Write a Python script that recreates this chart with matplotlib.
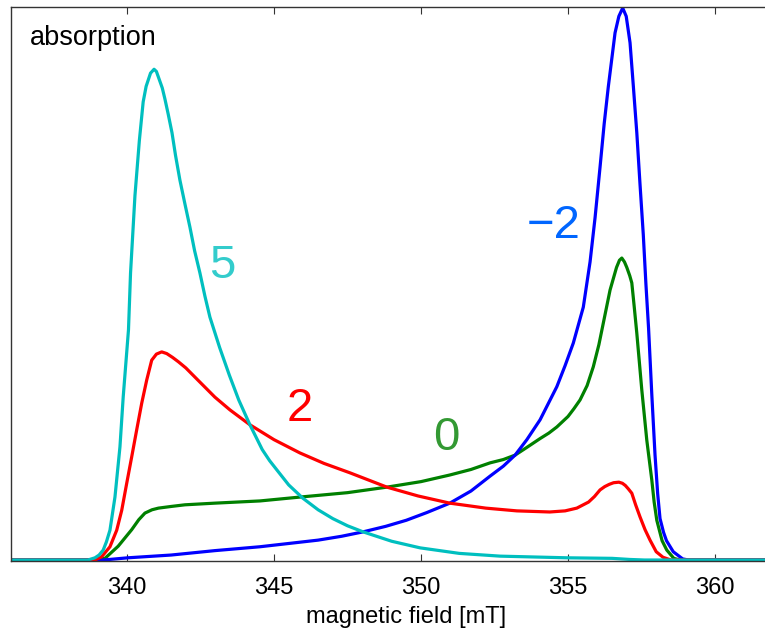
import matplotlib
matplotlib.use("Agg")
import matplotlib.pyplot as plt

plt.rcParams['font.family'] = ['Liberation Sans', 'DejaVu Sans']

# magnetic field [mT] / absorption (normalised)
field_5 = [336.0, 338.67, 338.91, 339.05, 339.19, 339.3, 339.42, 339.59, 339.76, 339.87,
           340.05, 340.12, 340.27, 340.42, 340.55, 340.65, 340.8, 340.92, 341.0, 341.1,
           341.2, 341.29, 341.4, 341.53, 341.65, 341.8, 341.97, 342.14, 342.3, 342.48,
           342.65, 342.82, 343.0, 343.15, 343.48, 343.8, 344.18, 344.6, 344.85, 345.1,
           345.5, 345.98, 346.5, 347.0, 347.5, 348.03, 349.0, 349.97, 351.3, 352.69,
           354.96, 356.5, 357.1, 357.6, 363.0]
absorb_5 = [0, 0, 0.004, 0.009, 0.018, 0.033, 0.054, 0.114, 0.205, 0.295,
            0.417, 0.52, 0.66, 0.76, 0.83, 0.858, 0.882, 0.889, 0.885, 0.87,
            0.855, 0.835, 0.808, 0.774, 0.733, 0.688, 0.645, 0.603, 0.56, 0.52,
            0.478, 0.44, 0.41, 0.385, 0.335, 0.29, 0.245, 0.2, 0.18, 0.163,
            0.136, 0.112, 0.091, 0.075, 0.062, 0.051, 0.034, 0.022, 0.012, 0.007,
            0.004, 0.003, 0.001, 0, 0]

field_2 = [336.0, 338.91, 339.14, 339.42, 339.65, 339.82, 339.99, 340.16, 340.33, 340.5,
           340.67, 340.84, 341.0, 341.18, 341.35, 341.55, 341.75, 342.0, 342.41, 342.99,
           343.5, 344.18, 345.0, 345.88, 346.7, 347.58, 348.84, 349.9, 350.98, 352.2,
           353.26, 354.38, 354.9, 355.3, 355.7, 355.9, 356.09, 356.25, 356.4, 356.55,
           356.73, 356.85, 356.95, 357.05, 357.17, 357.3, 357.45, 357.62, 357.79, 358.0,
           358.23, 358.5, 363.0]
absorb_2 = [0, 0, 0.006, 0.024, 0.054, 0.09, 0.139, 0.187, 0.236, 0.284,
            0.326, 0.362, 0.373, 0.377, 0.374, 0.367, 0.359, 0.348, 0.326, 0.295,
            0.272, 0.245, 0.218, 0.194, 0.175, 0.158, 0.132, 0.116, 0.103, 0.094,
            0.089, 0.087, 0.089, 0.094, 0.105, 0.115, 0.127, 0.133, 0.137, 0.14,
            0.141, 0.139, 0.135, 0.129, 0.121, 0.1, 0.078, 0.055, 0.036, 0.015,
            0.005, 0, 0]

field_0 = [336.0, 338.9, 339.25, 339.7, 340.16, 340.4, 340.61, 340.85, 341.07, 341.5,
           341.97, 342.99, 344.52, 345.88, 347.5, 348.84, 350.0, 350.98, 351.7, 352.35,
           352.8, 353.2, 353.6, 354.05, 354.35, 354.62, 355.0, 355.2, 355.41, 355.65,
           355.86, 356.05, 356.2, 356.43, 356.65, 356.75, 356.83, 356.92, 357.0, 357.1,
           357.17, 357.25, 357.34, 357.51, 357.68, 357.85, 357.93, 358.02, 358.2, 358.36,
           358.6, 358.8, 363.0]
absorb_0 = [0, 0, 0.003, 0.025, 0.055, 0.073, 0.085, 0.091, 0.094, 0.097,
            0.1, 0.103, 0.107, 0.114, 0.122, 0.132, 0.142, 0.154, 0.164, 0.176,
            0.182, 0.19, 0.204, 0.22, 0.23, 0.241, 0.26, 0.274, 0.29, 0.316,
            0.35, 0.39, 0.429, 0.489, 0.53, 0.543, 0.547, 0.54, 0.53, 0.515,
            0.502, 0.46, 0.411, 0.308, 0.217, 0.145, 0.105, 0.072, 0.035, 0.018,
            0.003, 0, 0]

field_m2 = [336.0, 339.2, 340.03, 341.5, 342.99, 344.52, 346.5, 347.3, 348.03, 348.8,
            349.5, 350.2, 350.98, 351.7, 352.35, 352.8, 353.2, 353.6, 354.05, 354.62,
            354.9, 355.18, 355.52, 355.75, 355.92, 356.09, 356.23, 356.37, 356.6, 356.73,
            356.86, 356.98, 357.11, 357.22, 357.34, 357.45, 357.56, 357.65, 357.74, 357.85,
            357.96, 358.05, 358.13, 358.25, 358.35, 358.58, 358.9, 359.1, 363.0]
absorb_m2 = [0, 0, 0.004, 0.009, 0.017, 0.024, 0.036, 0.043, 0.051, 0.061,
             0.072, 0.086, 0.103, 0.125, 0.152, 0.17, 0.19, 0.218, 0.254, 0.314,
             0.352, 0.393, 0.458, 0.54, 0.62, 0.712, 0.79, 0.857, 0.955, 0.985,
             1.0, 0.985, 0.937, 0.86, 0.774, 0.68, 0.59, 0.5, 0.42, 0.3,
             0.19, 0.12, 0.075, 0.05, 0.035, 0.015, 0.002, 0, 0]

labels = ["5", "2", "0", "\u22122"]
label_x = [343.23, 345.87, 350.85, 354.52]
label_y = [0.511, 0.252, 0.199, 0.583]
label_colors = ["#33cccc", "#ff0000", "#339933", "#0066ff"]

fig = plt.figure(figsize=(7.65, 6.34), dpi=100)
ax = fig.add_axes([11 / 765, 73 / 634, 790 / 765, 554 / 634])

ax.plot(field_0, absorb_0, color=(0, 0.5, 0), lw=2.3)
ax.plot(field_m2, absorb_m2, color=(0, 0, 1), lw=2.3)
ax.plot(field_2, absorb_2, color=(1, 0, 0), lw=2.3)
ax.plot(field_5, absorb_5, color=(0, 0.75, 0.75), lw=2.3)

for txt, lx, ly, c in zip(labels, label_x, label_y, label_colors):
    ax.text(lx, ly, txt, color=c, fontsize=34, ha='center', va='baseline')

ax.text(0.024, 0.931, "absorption", transform=ax.transAxes, fontsize=19.5,
        ha='left', va='baseline')

ax.set_xlim(336.054, 362.925)
ax.set_ylim(-0.0018, 1.0018)
ax.set_xticks([340, 345, 350, 355, 360])
ax.set_yticks([])
ax.tick_params(axis='x', direction='in', length=5, width=0.8, color='#333333',
               top=True, labelsize=17, pad=11.5)
for sp in ax.spines.values():
    sp.set_color('#333333')
    sp.set_linewidth(1.0)
ax.set_xlabel("magnetic field [mT]", fontsize=17, labelpad=5)

fig.savefig("out.png", dpi=100)
